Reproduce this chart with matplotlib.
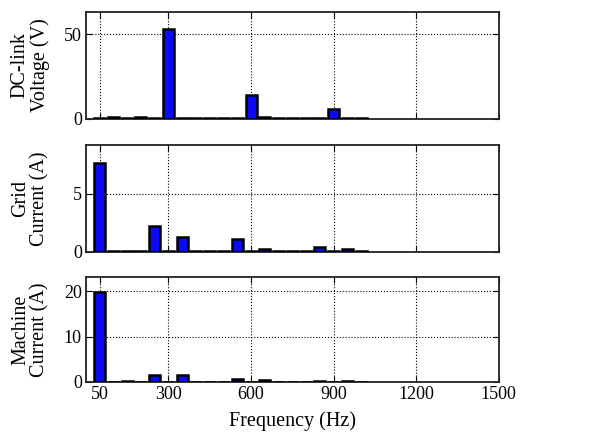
import matplotlib
matplotlib.use("Agg")
import matplotlib.pyplot as plt
import numpy as np

plt.rcParams['font.family'] = ['Liberation Serif', 'DejaVu Serif']
plt.rcParams['font.size'] = 11

# harmonic frequencies (Hz)
freq = [50, 100, 150, 200, 250, 300, 350, 400, 450, 500,
        550, 600, 650, 700, 750, 800, 850, 900, 950, 1000]

# DC-link voltage spectrum (V)
dc_link = [0.3, 0.8, 0.2, 1.2, 0.2, 53.0, 0.3, 0.6, 0.5, 0.6,
           0.2, 13.8, 0.9, 0.7, 0.3, 0.2, 0.2, 5.6, 0.2, 0.7]

# grid current spectrum (A)
grid_cur = [7.65, 0.05, 0.05, 0.05, 2.2, 0.05, 1.27, 0.05, 0.05, 0.05,
            1.07, 0.05, 0.26, 0.03, 0.03, 0.03, 0.37, 0.03, 0.2, 0.05]

# machine current spectrum (A)
mach_cur = [19.8, 0.1, 0.3, 0.1, 1.5, 0.1, 1.5, 0.1, 0.1, 0.1,
            0.6, 0.1, 0.5, 0.1, 0.1, 0.1, 0.3, 0.1, 0.3, 0.1]

xticks = [50, 300, 600, 900, 1200, 1500]

panels = [
    (dc_link, "DC-link\nVoltage (V)", [0, 50], 63, [0.140, 0.7284, 0.672, 0.2435]),
    (grid_cur, "Grid\nCurrent (A)", [0, 5], 9.2, [0.140, 0.424, 0.672, 0.2435]),
    (mach_cur, "Machine\nCurrent (A)", [0, 10, 20], 23.2, [0.140, 0.1259, 0.672, 0.2409]),
]

fig = plt.figure(figsize=(6.14, 4.37), dpi=100)

for i, (vals, label, yt, ytop, pos) in enumerate(panels):
    ax = fig.add_axes(pos)
    ax.bar(freq, vals, width=40, color='#0a0af5', edgecolor='black', linewidth=1.8, zorder=3)
    ax.set_xlim(0, 1500)
    ax.set_ylim(0, ytop)
    ax.set_xticks(xticks)
    ax.set_yticks(yt)
    ax.grid(True, color='black', linestyle=':', linewidth=0.8)
    ax.tick_params(direction='in', top=True, right=True, length=4, labelsize=13, pad=3)
    for s in ax.spines.values():
        s.set_linewidth(1.3)
        s.set_color('#222222')
    ax.set_ylabel(label, fontsize=14.5, linespacing=1.0)
    ax.yaxis.set_label_coords(-0.088, 0.5)
    if i < 2:
        ax.set_xticklabels([])
    else:
        ax.set_xlabel("Frequency (Hz)", fontsize=14.5, labelpad=6)

fig.savefig("out.png", dpi=100)
